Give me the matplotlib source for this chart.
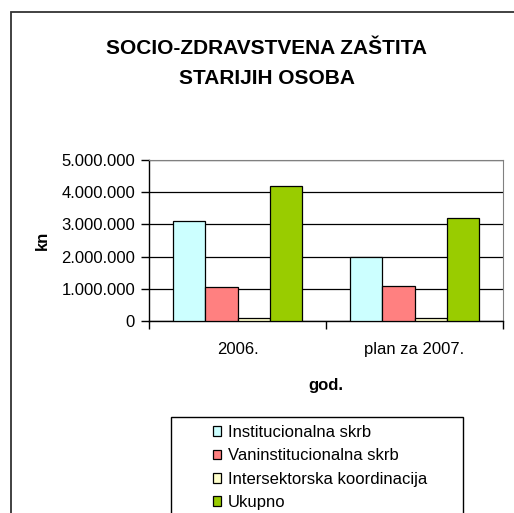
import numpy as np
import matplotlib
matplotlib.use("Agg")
import matplotlib.pyplot as plt
from matplotlib.patches import Rectangle, Patch
from matplotlib.ticker import FuncFormatter

plt.rcParams['font.family'] = ['Liberation Sans', 'DejaVu Sans']

# data
categories = ['2006.', 'plan za 2007.']
series_names = ['Institucionalna skrb', 'Vaninstitucionalna skrb',
                'Intersektorska koordinacija', 'Ukupno']
institucionalna = [3100000, 2000000]
vaninstitucionalna = [1050000, 1100000]
intersektorska = [80000, 80000]
ukupno = [4200000, 3200000]
colors = ['#CCFFFF', '#FF8080', '#FFFFCC', '#99CC00']

W, H = 514, 513
fig = plt.figure(figsize=(W / 100, H / 100), dpi=100)

# outer chart frame (cut off at right and bottom like the original)
fig.patches.append(Rectangle((11 / W, -0.1), 1.2, 1 - 12 / H + 0.1,
                             transform=fig.transFigure, fill=False,
                             edgecolor='#333333', lw=1.3))

ax = fig.add_axes([149 / W, 1 - 321 / H, (503 - 149) / W, (321 - 160) / H])

values = [institucionalna, vaninstitucionalna, intersektorska, ukupno]
x = np.arange(len(categories))
n = len(values)
bw = 1 / (n + 1.5)
for i, (vals, c) in enumerate(zip(values, colors)):
    ax.bar(x + (i - (n - 1) / 2) * bw, vals, bw, color=c,
           edgecolor='black', linewidth=0.9, zorder=3)

ax.set_xlim(-0.5, 1.5)
ax.set_ylim(0, 5000000)
ax.set_yticks(np.arange(0, 5000001, 1000000))
ax.yaxis.set_major_formatter(FuncFormatter(lambda v, p: f'{int(v):,}'.replace(',', '.')))
ax.set_xticks([-0.5, 0.5, 1.5])
ax.set_xticklabels([])
ax.set_xticks(x, minor=True)
ax.set_xticklabels(categories, minor=True)
ax.tick_params(axis='x', which='minor', length=0, pad=15, labelsize=12)
ax.tick_params(axis='x', which='major', length=6, width=1, direction='out')
ax.tick_params(axis='y', length=6, width=1, direction='out', labelsize=12, pad=4)
ax.grid(axis='y', color='black', lw=0.9, zorder=1)
for s in ['top', 'right']:
    ax.spines[s].set_color('#808080')
for s in ['left', 'bottom']:
    ax.spines[s].set_color('black')
    ax.spines[s].set_linewidth(1)

ax.set_ylabel('kn', fontsize=12, fontweight='bold', labelpad=8)
ax.set_xlabel('god.', fontsize=12, fontweight='bold', labelpad=15)

fig.text(267 / W, 1 - 48 / H, 'SOCIO-ZDRAVSTVENA ZAŠTITA', ha='center', va='center',
         fontsize=15, fontweight='bold')
fig.text(267 / W, 1 - 79 / H, 'STARIJIH OSOBA', ha='center', va='center',
         fontsize=15, fontweight='bold')

# legend box (cut off at the bottom edge)
fig.patches.append(Rectangle((171 / W, -0.05), (463 - 171) / W, 1 - 417 / H + 0.05,
                             transform=fig.transFigure, fill=False,
                             edgecolor='black', lw=1))
handles = [Patch(facecolor=c, edgecolor='black', lw=0.9) for c in colors]
fig.legend(handles, series_names, loc='upper left',
           bbox_to_anchor=(213 / W, 1 - 425 / H), fontsize=12,
           frameon=False, handlelength=0.5, handleheight=0.5,
           handletextpad=0.4, labelspacing=0.5, borderpad=0,
           borderaxespad=0)

fig.savefig('out.png', dpi=100)
